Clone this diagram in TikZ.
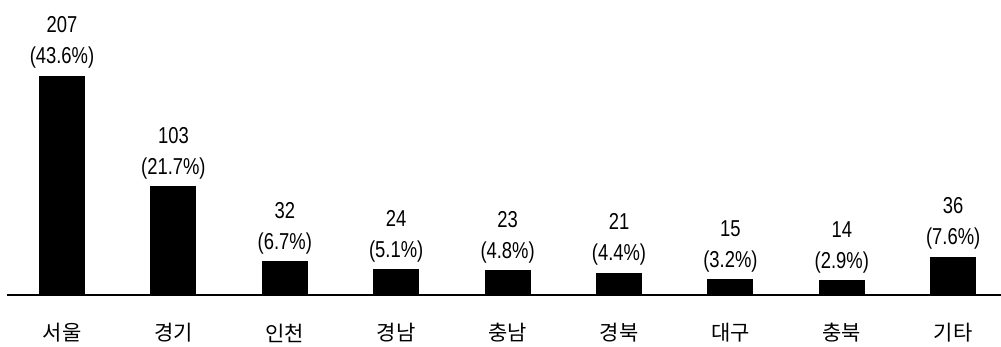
\documentclass[tikz,border=0pt]{standalone}
\usepackage{fontspec}
\newfontfamily\numfont{Liberation Sans}[FakeStretch=0.8]
\newfontfamily\kofont{Noto Sans CJK KR}
\begin{document}
\begin{tikzpicture}[x=1pt, y=1pt]
      \tikzset{
  bar/.style={
    rectangle,
    fill=black,
    inner sep=0pt,
    minimum width=46pt,
    anchor=south
  },
  count label/.style={
    font=\numfont\fontsize{23}{23}\selectfont,
    inner sep=0pt,
    anchor=base
  },
  region label/.style={
    font=\kofont\fontsize{21}{21}\selectfont,
    inner sep=0pt
  }
}
\useasboundingbox (0,-52) rectangle (1001,295);

\coordinate (axis-start) at (7,0);
\coordinate (axis-end) at (1001,0);

% bars, values and region names
\foreach \v/\p/\n [count=\i] in {207/43.6/서울, 103/21.7/경기, 32/6.7/인천,
    24/5.1/경남, 23/4.8/충남, 21/4.4/경북, 15/3.2/대구, 14/2.9/충북, 36/7.6/기타}
{
  \pgfmathsetmacro\barx{62+111.4*(\i-1)}
  \pgfmathsetmacro\barh{1.058*\v}
  \node [bar, minimum height=\barh pt] (bar-\i) at (\barx,0) {};
  \node [count label] (pct-\i) at (\barx,\barh+12) {(\p\%)};
  \node [count label] (num-\i) at (\barx,\barh+43) {\v};
  \node [region label] (region-\i) at (\barx,-38) {\n};
}

\draw [line width=1.5pt] (axis-start) -- (axis-end);
      \end{tikzpicture}
\end{document}
